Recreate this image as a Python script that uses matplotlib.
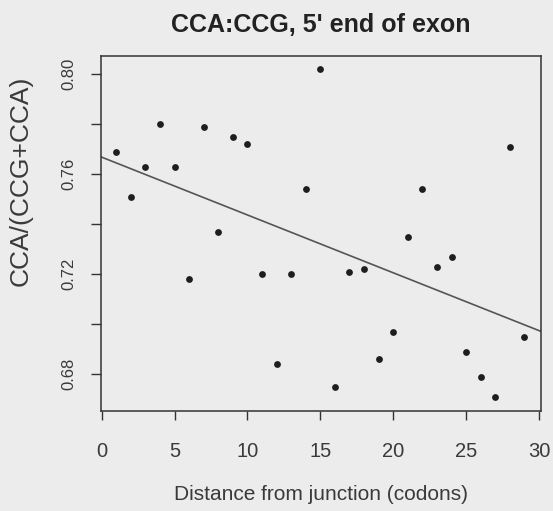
import numpy as np
import matplotlib
matplotlib.use("Agg")
import matplotlib.pyplot as plt

plt.rcParams["font.family"] = ["Liberation Sans", "DejaVu Sans"]

# codon distance from the exon junction and CCA/(CCG+CCA) ratio
distance = [1, 2, 3, 4, 5, 6, 7, 8, 9, 10, 11, 12, 13, 14, 15,
            16, 17, 18, 19, 20, 21, 22, 23, 24, 25, 26, 27, 28, 29]
ratio = [0.769, 0.751, 0.763, 0.780, 0.763, 0.718, 0.779, 0.737, 0.775, 0.772,
         0.720, 0.684, 0.720, 0.754, 0.802, 0.675, 0.721, 0.722, 0.686, 0.697,
         0.735, 0.754, 0.723, 0.727, 0.689, 0.679, 0.671, 0.771, 0.695]

x_ticks = [0, 5, 10, 15, 20, 25, 30]
y_ticks = [0.68, 0.70, 0.72, 0.74, 0.76, 0.78, 0.80]
y_labels = ["0.68", "", "0.72", "", "0.76", "", "0.80"]

bg = "#ececec"
ink = "#333333"
text_col = "#3a3a3a"

fig = plt.figure(figsize=(5.53, 5.11), dpi=100, facecolor=bg)
ax = fig.add_axes([0.1821, 0.1957, 0.7962, 0.6953], facecolor=bg)

ax.scatter(distance, ratio, s=24, color="#1e1e1e", zorder=3, linewidths=0)

# least-squares line, drawn across the whole panel like abline()
slope, intercept = np.polyfit(distance, ratio, 1)
ax.axline((0, intercept), slope=slope, color="#555555", linewidth=1.2, zorder=2)

ax.set_xlim(-0.07, 30.14)
ax.set_ylim(0.6653, 0.8074)
ax.set_xticks(x_ticks)
ax.set_yticks(y_ticks)
ax.set_yticklabels(y_labels, rotation=90, va="center")

for s in ax.spines.values():
    s.set_color(ink)
    s.set_linewidth(1.1)
ax.tick_params(colors=ink, labelcolor=text_col, width=1.0)
ax.tick_params(axis="x", length=6.5, pad=16, labelsize=14.5)
ax.tick_params(axis="y", length=7.5, pad=10, labelsize=12)

ax.set_xlabel("Distance from junction (codons)", fontsize=15, color=text_col,
              labelpad=17)
ax.set_ylabel("CCA/(CCG+CCA)", fontsize=19, color=text_col)
ax.yaxis.set_label_coords(-0.154, 0.647)
ax.set_title("CCA:CCG, 5' end of exon", fontsize=18, fontweight="bold",
             color="#222222", pad=17)

fig.savefig("out.png", dpi=100, facecolor=bg)
